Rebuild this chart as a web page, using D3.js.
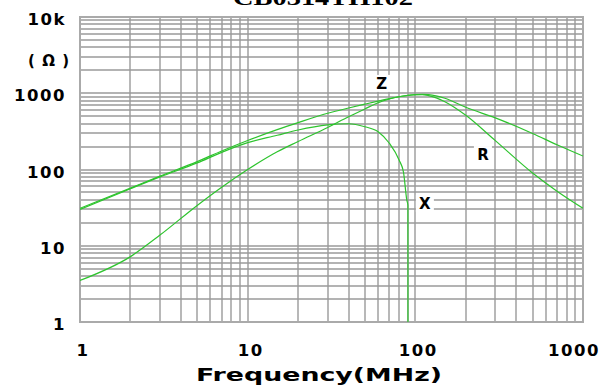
<!DOCTYPE html>
<html>
<head>
<meta charset="utf-8">
<script src="https://cdn.jsdelivr.net/npm/d3@7"></script>
<style>
  body { margin: 0; background: #fff; }
</style>
</head>
<body>
<div id="my_dataviz"></div>
<script>
// data
var freqs = [1, 2, 3, 5, 7, 10, 15, 20, 30, 40, 50, 60, 70, 80, 90, 100, 110, 120, 150, 200, 300, 500, 700, 1000];
var zValues = [31, 57, 82, 127, 175, 240, 333, 412, 546, 640, 720, 790, 850, 900, 940, 962, 968, 960, 860, 654, 475, 297, 211, 150];
var rValues = [3.5, 7.2, 13.8, 33.8, 58.6, 100, 171, 233, 356, 491, 623, 750, 840, 900, 935, 955, 958, 930, 775, 514, 239, 90, 52, 31];
var xFreqs = [1, 2, 3, 5, 7, 10, 15, 20, 30, 40, 50, 60, 70, 80, 85, 88.9, 90.3, 90.35];
var xValues = [30, 56, 80, 122, 168, 225, 281, 330, 385, 398, 364, 313, 221, 133, 92, 40, 34, 0.5];

var xTicks = [1, 10, 100, 1000];
var xTickLabels = ["1", "10", "100", "1000"];
var yTicks = [1, 10, 100, 1000, 10000];
var yTickLabels = ["1", "10", "100", "1000", "10k"];

// curve names and where their labels sit (freq, ohms)
var curveNames = ["Z", "R", "X"];
var labelFreqs = [63, 253, 114];
var labelValues = [1140, 133, 30.4];

var title = "CB0314TH102";

// set the dimensions and margins of the graph
var margin = {top: 17, right: 25, bottom: 65, left: 80},
    width = 608 - margin.left - margin.right,
    height = 387 - margin.top - margin.bottom;

var svg = d3.select("#my_dataviz")
  .append("svg")
    .attr("width", 608)
    .attr("height", 387)
  .append("g")
    .attr("transform", "translate(" + margin.left + "," + margin.top + ")");

var x = d3.scaleLog().domain([1, 1000]).range([0, width]);
var y = d3.scaleLog().domain([1, 10000]).range([height, 0]);

// grid: every 1..9 step in each decade
var xGrid = [], yGrid = [];
for (var d = 1; d < 1000; d *= 10) for (var k = 1; k < 10; k++) xGrid.push(d * k);
xGrid.push(1000);
for (var d2 = 1; d2 < 10000; d2 *= 10) for (var k2 = 1; k2 < 10; k2++) yGrid.push(d2 * k2);
yGrid.push(10000);

svg.selectAll("vgrid")
  .data(xGrid)
  .enter()
  .append("line")
    .attr("x1", function(d){ return Math.round(x(d)) })
    .attr("x2", function(d){ return Math.round(x(d)) })
    .attr("y1", 0)
    .attr("y2", height)
    .attr("stroke", "#9a9a9a")
    .attr("stroke-width", 1.4)

svg.selectAll("hgrid")
  .data(yGrid)
  .enter()
  .append("line")
    .attr("x1", 0)
    .attr("x2", width)
    .attr("y1", function(d){ return Math.round(y(d)) })
    .attr("y2", function(d){ return Math.round(y(d)) })
    .attr("stroke", "#9a9a9a")
    .attr("stroke-width", 1.4)

svg.append("rect")
  .attr("width", width)
  .attr("height", height)
  .attr("fill", "none")
  .attr("stroke", "#aaa")
  .attr("stroke-width", 2)

svg.append("clipPath")
  .attr("id", "clip")
  .append("rect")
    .attr("width", width)
    .attr("height", height)

var line = d3.line()
  .x(function(d){ return x(d[0]) })
  .y(function(d){ return y(d[1]) })
  .curve(d3.curveMonotoneX)

var curves = [
  d3.zip(freqs, zValues),
  d3.zip(freqs, rValues),
  d3.zip(xFreqs, xValues)
];

svg.selectAll("curves")
  .data(curves)
  .enter()
  .append("path")
    .attr("clip-path", "url(#clip)")
    .attr("fill", "none")
    .attr("stroke", "#2ec42e")
    .attr("stroke-width", 1.2)
    .attr("d", line)

// curve labels with white boxes behind them
var labels = svg.selectAll("curvelabels")
  .data(curveNames)
  .enter()
  .append("g")
    .attr("transform", function(d, i){ return "translate(" + x(labelFreqs[i]) + "," + y(labelValues[i]) + ")" })

labels.append("rect")
  .attr("x", -9)
  .attr("y", -14)
  .attr("width", 18)
  .attr("height", 17)
  .attr("fill", "#fff")

labels.append("text")
  .attr("text-anchor", "middle")
  .style("font-family", "DejaVu Sans")
  .style("font-weight", "bold")
  .style("font-size", "15px")
  .text(function(d){ return d })

// tick labels
svg.selectAll("ylabels")
  .data(yTicks)
  .enter()
  .append("text")
    .attr("x", -14)
    .attr("y", function(d){ return y(d) + 8 })
    .attr("text-anchor", "end")
    .style("font-family", "DejaVu Sans")
    .style("font-weight", "bold")
    .style("font-size", "16.5px")
    .style("letter-spacing", "1.5px")
    .text(function(d, i){ return yTickLabels[i] })

svg.selectAll("xlabels")
  .data(xTicks)
  .enter()
  .append("text")
    .attr("x", function(d, i){ return i == xTicks.length - 1 ? width + 17 : x(d) + 3 })
    .attr("y", height + 34)
    .attr("text-anchor", function(d, i){ return i == xTicks.length - 1 ? "end" : "middle" })
    .style("font-family", "DejaVu Sans")
    .style("font-weight", "bold")
    .style("font-size", "16.5px")
    .style("letter-spacing", "1.5px")
    .text(function(d, i){ return xTickLabels[i] })

// unit label
svg.append("text")
  .attr("x", -10)
  .attr("y", 49)
  .attr("text-anchor", "end")
  .style("font-family", "DejaVu Sans")
  .style("font-weight", "600")
  .style("font-size", "15px")
  .style("letter-spacing", "1px")
  .text("( Ω )")

// axis title
svg.append("text")
  .attr("x", 239)
  .attr("y", height + 59)
  .attr("text-anchor", "middle")
  .attr("textLength", 246)
  .attr("lengthAdjust", "spacingAndGlyphs")
  .style("font-family", "DejaVu Sans")
  .style("font-weight", "bold")
  .style("font-size", "18px")
  .text("Frequency(MHz)")

// chart title, cut off at the top edge
svg.append("text")
  .attr("x", 243)
  .attr("y", -12)
  .attr("text-anchor", "middle")
  .attr("textLength", 180)
  .attr("lengthAdjust", "spacingAndGlyphs")
  .style("font-family", "Liberation Serif")
  .style("font-weight", "bold")
  .style("font-size", "22px")
  .text(title)
</script>
</body>
</html>
